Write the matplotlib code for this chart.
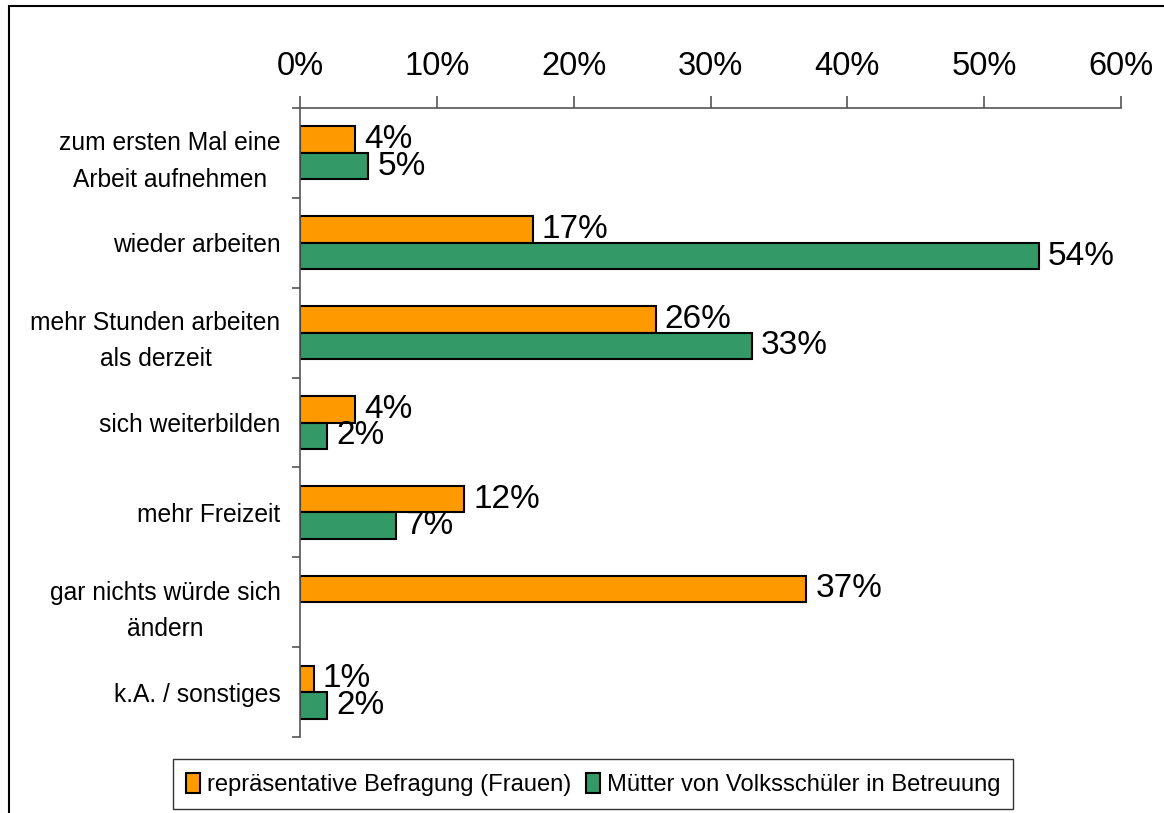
import numpy as np
import matplotlib
matplotlib.use("Agg")
import matplotlib.pyplot as plt
from matplotlib.patches import Rectangle

plt.rcParams['font.family'] = ['Liberation Sans', 'DejaVu Sans']

categories = ["zum ersten Mal eine\nArbeit aufnehmen", "wieder arbeiten",
              "mehr Stunden arbeiten\nals derzeit", "sich weiterbilden",
              "mehr Freizeit", "gar nichts würde sich\nändern", "k.A. / sonstiges"]
frauen = [4, 17, 26, 4, 12, 37, 1]
muetter = [5, 54, 33, 2, 7, np.nan, 2]
series_names = ["repräsentative Befragung (Frauen)", "Mütter von Volksschüler in Betreuung"]
x_ticks = [0, 10, 20, 30, 40, 50, 60]

ORANGE = "#FF9900"
GREEN = "#339966"
BAR_H = 0.295

fig = plt.figure(figsize=(11.64, 8.13), dpi=100)
ax = fig.add_axes([300/1164, 1 - 737/813, (1121 - 300)/1164, (737 - 108)/813])

y = np.arange(len(categories))
b1 = ax.barh(y - BAR_H/2, frauen, height=BAR_H, color=ORANGE, edgecolor="black",
             linewidth=1.5, label=series_names[0])
b2 = ax.barh(y + BAR_H/2, muetter, height=BAR_H, color=GREEN, edgecolor="black",
             linewidth=1.5, label=series_names[1])

# value labels (they overlap a little, like in the original)
for bars, vals in ((b1, frauen), (b2, muetter)):
    for rect, v in zip(bars, vals):
        if np.isnan(v):
            continue
        ax.annotate(f"{v:.0f}%", (v, rect.get_y() + rect.get_height()/2),
                    xytext=(6.5, 0), textcoords="offset points",
                    ha="left", va="center", fontsize=24)

ax.set_xlim(0, 60)
ax.set_ylim(len(categories) - 0.5, -0.5)
ax.set_xticks(x_ticks)
ax.set_xticklabels([f"{t}%" for t in x_ticks])
ax.xaxis.tick_top()
ax.tick_params(axis="x", direction="out", length=9, width=1.2, colors="#555555",
               labelcolor="black", labelsize=23.5, pad=10)

# category ticks sit between the groups
ax.set_yticks(np.arange(len(categories) + 1) - 0.5)
ax.set_yticklabels([])
ax.set_yticks(y, minor=True)
ax.set_yticklabels(categories, minor=True, fontsize=17.7, ha="right",
                   multialignment="center", linespacing=1.65)
ax.tick_params(axis="y", which="major", direction="out", length=6, width=1.2, colors="#555555")
ax.tick_params(axis="y", which="minor", length=0, pad=14, labelcolor="black")

for s in ("right", "bottom"):
    ax.spines[s].set_visible(False)
for s in ("top", "left"):
    ax.spines[s].set_color("#555555")
    ax.spines[s].set_linewidth(1.2)

leg = fig.legend(loc="lower center", bbox_to_anchor=(593/1164, 4/813), ncol=2,
                 fontsize=17.1, frameon=True, fancybox=False, edgecolor="black",
                 handlelength=0.6, handleheight=0.95, handletextpad=0.3,
                 columnspacing=0.6, borderpad=0.55, borderaxespad=0)
leg.get_frame().set_linewidth(1.0)

# chart border (top and left visible)
fig.add_artist(Rectangle((9/1164, -0.1), 1.2, 1.1 - 6/813, fill=False,
                         transform=fig.transFigure, linewidth=1.5,
                         edgecolor="black", clip_on=False))

fig.savefig("out.png", dpi=100)
